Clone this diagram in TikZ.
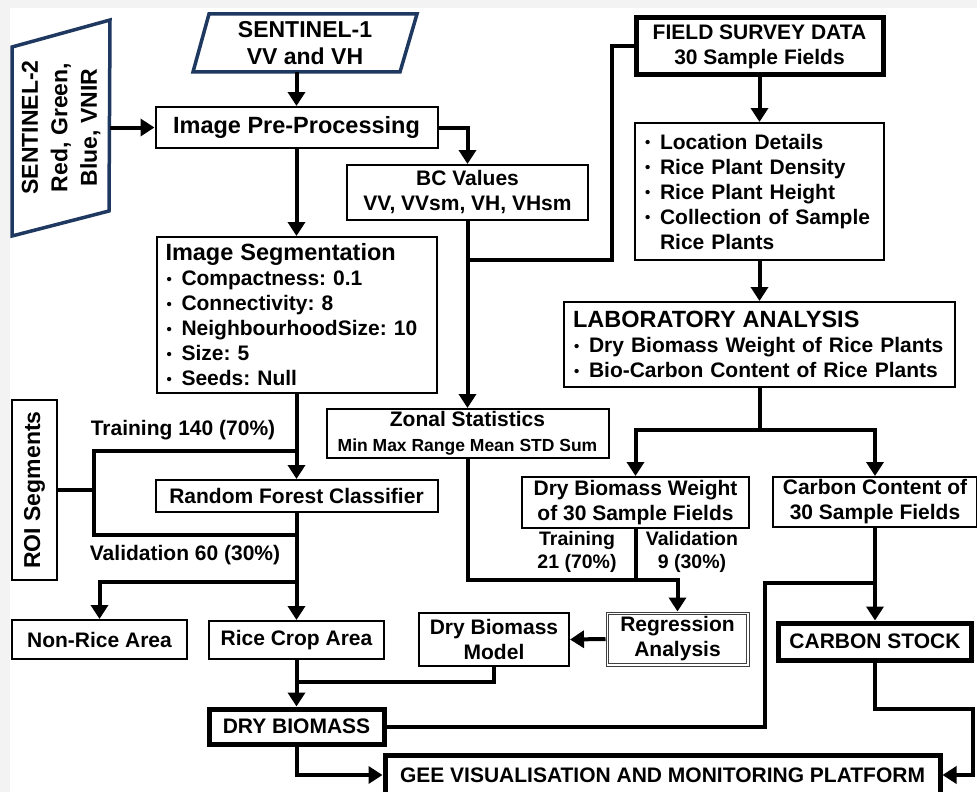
\documentclass[tikz,border=0pt]{standalone}
\usepackage{fontspec}
\setmainfont{Liberation Sans}
\usetikzlibrary{arrows.meta}
\definecolor{navy}{RGB}{31,56,96}
\definecolor{bggray}{RGB}{243,243,243}
\newcommand\bul{\makebox[16pt][l]{\hspace*{1pt}\raisebox{1.5pt}{\fontsize{15}{15}\selectfont •}}}
\frenchspacing
\begin{document}
\begin{tikzpicture}[x=1pt,y=-1pt,
  box/.style={draw=black, line width=2pt, fill=white, inner sep=0pt, align=center, font=\bfseries\fontsize{21}{25}\selectfont},
  tbox/.style={box, line width=5pt},
  lbl/.style={inner sep=0pt, align=center, font=\bfseries\fontsize{21}{25}\selectfont},
  smlbl/.style={lbl, font=\bfseries\fontsize{19.5}{23}\selectfont},
  conn/.style={line width=4pt},
  arr/.style={conn, -{Triangle[length=14pt,width=17pt]}},
  arrboth/.style={conn, {Triangle[length=14pt,width=17pt]}-{Triangle[length=14pt,width=17pt]}},
  shapeline/.style={draw=navy, line width=3.5pt, fill=white, line join=miter},
]
\useasboundingbox (0,0) rectangle (977,792);
\fill[bggray] (0,0) rectangle (977,792);
\fill[white] (10,8) rectangle (977,792);

% input shapes
\draw[shapeline] (209,14) -- (417,14) -- (400,72) -- (193,72) -- cycle;
\node[lbl, minimum width=206pt, minimum height=58pt, font=\bfseries\fontsize{23}{27}\selectfont] (s1) at (305,43) {SENTINEL-1\\VV and VH};
\draw[shapeline] (12,47) -- (110,20) -- (109,211) -- (12,236) -- cycle;
\node[minimum width=97pt, minimum height=190pt, inner sep=0pt] (s2) at (61,127.5) {};
\node[lbl, rotate=90, font=\bfseries\fontsize{23}{29.5}\selectfont] (s2t) at (s2.center) {SENTINEL-2\\Red, Green,\\Blue, VNIR};

% boxes
\node[box, minimum width=282pt, minimum height=41pt] (pre) at (296.5,127.5) {\fontsize{23.5}{27}\selectfont Image Pre-Processing};
\node[box, minimum width=241pt, minimum height=55pt] (bc) at (467.5,192.5) {BC Values\\VV, VVsm, VH, VHsm};
\node[box, align=left, text width=262pt, inner xsep=9pt, minimum height=156pt] (seg) at (296.5,315) {{\fontsize{23.5}{27}\selectfont Image Segmentation}\\\bul Compactness: 0.1\\\bul Connectivity: 8\\\bul NeighbourhoodSize: 10\\\bul Size: 5\\\bul Seeds: Null};
\node[tbox, minimum width=247pt, minimum height=57pt] (fsd) at (759.5,46.5) {FIELD SURVEY DATA\\30 Sample Fields};
\node[box, align=left, text width=231pt, inner xsep=9pt, minimum height=137pt] (loc) at (759.5,191.5) {\bul Location Details\\\bul Rice Plant Density\\\bul Rice Plant Height\\\bul Collection of Sample\\\hspace*{16pt}Rice Plants};
\node[box, align=left, text width=373pt, inner xsep=9pt, minimum height=85pt] (lab) at (759.5,344.5) {{\fontsize{23.5}{27}\selectfont LABORATORY ANALYSIS}\\\bul Dry Biomass Weight of Rice Plants\\\bul Bio-Carbon Content of Rice Plants};
\node[box, minimum width=282pt, minimum height=49pt] (zs) at (467.5,433.5) {Zonal Statistics\\{\fontsize{17.5}{20}\selectfont Min Max Range Mean STD Sum}};
\node[box, minimum width=282pt, minimum height=32pt] (rf) at (296.5,496) {Random Forest Classifier};
\node[box, minimum width=227pt, minimum height=51pt] (dbw) at (635.5,502.5) {Dry Biomass Weight\\of 30 Sample Fields};
\node[box, minimum width=204pt, minimum height=50pt] (cc) at (875,502) {Carbon Content of\\30 Sample Fields};
\node[box, rotate=90, minimum width=180pt, minimum height=45pt, font=\bfseries\fontsize{23}{27}\selectfont] (roi) at (34.5,490) {ROI Segments};
\node[box, draw=black!75, line width=1pt, minimum width=143pt, minimum height=54pt] (reg) at (677.5,639) {Regression\\Analysis};
\draw[draw=black!75, line width=1pt] ([shift={(2.8,2.8)}]reg.north west) rectangle ([shift={(-2.8,-2.8)}]reg.south east);
\node[box, minimum width=150pt, minimum height=53pt] (dbm) at (494,639.5) {Dry Biomass\\Model};
\node[box, minimum width=175pt, minimum height=39pt] (nra) at (99.5,639.5) {Non-Rice Area};
\node[box, minimum width=175pt, minimum height=38pt] (rca) at (296.5,640) {Rice Crop Area};
\node[tbox, minimum width=175pt, minimum height=35pt] (db) at (296.5,726.5) {DRY BIOMASS};
\node[tbox, minimum width=193pt, minimum height=37pt] (cs) at (875,641.5) {CARBON STOCK};
\node[tbox, minimum width=555pt, minimum height=40pt] (gee) at (662.5,775) {GEE VISUALISATION AND MONITORING PLATFORM};

% labels
\node[lbl] (ltr) at (183,430) {Training 140 (70\%)};
\node[lbl] (lva) at (185,555) {Validation 60 (30\%)};
\node[smlbl] (ltr2) at (577,552) {Training\\21 (70\%)};
\node[smlbl] (lva2) at (692,552) {Validation\\9 (30\%)};

% coordinates
\coordinate (j1) at (467.5,260);
\coordinate (b1) at (759.5,430);
\coordinate (j2) at (467.5,580);
\coordinate (j3) at (296.5,682);
\coordinate (t1) at (94,451);
\coordinate (v1) at (94,535);
\coordinate (j4) at (296.5,582);
\coordinate (k1) at (765,583);
\coordinate (k2) at (973,709);

% connectors
\draw[arr] (s1.south -| pre.north) -- (pre.north);
\draw[arr] (s2.east) -- (pre.west);
\draw[arr] (pre.east) -| (bc.north);
\draw[arr] (pre.south) -- (seg.north);
\draw[arr] (bc.south) -- (zs.north);
\draw[conn] (fsd.west) -- ++(-22,0) |- (j1);
\draw[arr] (fsd.south) -- (loc.north);
\draw[arr] (loc.south) -- (lab.north);
\draw[conn] (lab.south) -- (b1);
\draw[arrboth] (dbw.north) |- (b1) -| (cc.north);
\draw[arr] (zs.south) -- (j2) -| (reg.north);
\draw[conn] (dbw.south) -- (dbw.south |- j2);
\draw[arr] (reg.west) -- (dbm.east);
\draw[conn] (dbm.south) |- (j3);
\draw[arr] (rca.south) -- (db.north);
\draw[arr] (seg.south) -- (rf.north);
\draw[conn] (seg.south |- t1) -- (t1) -- (v1) -- (rf.south |- v1);
\draw[conn] (roi.south) -- (roi.south -| t1);
\draw[arr] (rf.south) -- (rca.north);
\draw[arr] (j4) -| (nra.north);
\draw[conn] (db.east) -| (k1) -- (k1 -| cc.south);
\draw[arr] (cc.south) -- (cs.north);
\draw[arr] (cs.south) |- (k2) |- (gee.east);
\draw[arr] (db.south) |- (gee.west);
\end{tikzpicture}
\end{document}
